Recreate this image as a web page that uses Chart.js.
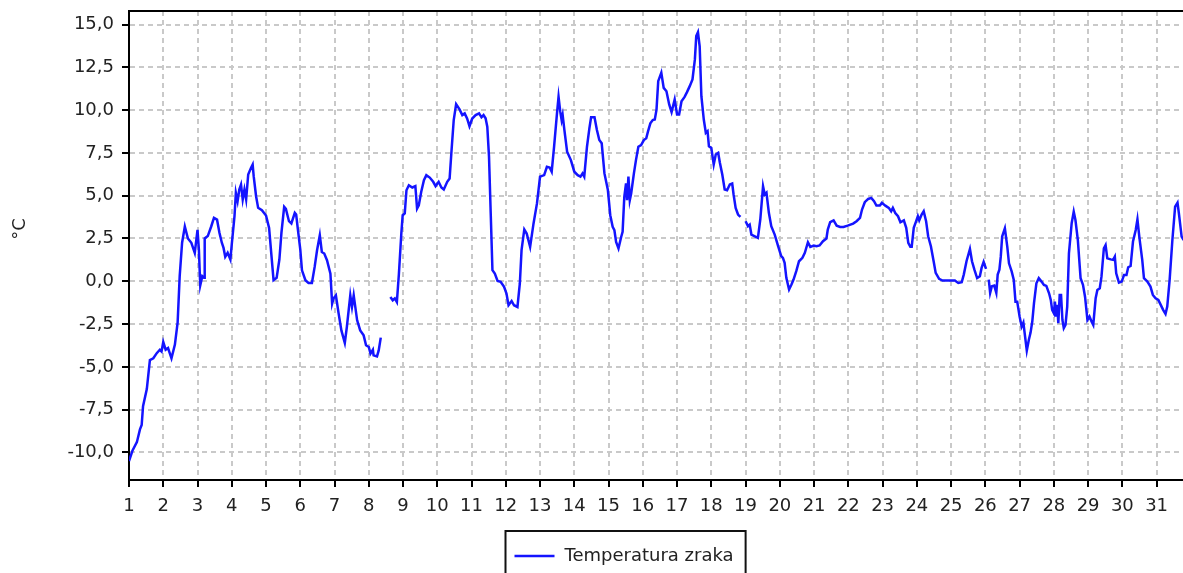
<!DOCTYPE html>
<html>
<head>
<meta charset="utf-8">
<script src="https://cdn.jsdelivr.net/npm/chart.js@4.4.1/dist/chart.umd.min.js"></script>
<style>
  html, body { margin: 0; padding: 0; background: #fff; }
  #temp-chart { display: block; }
</style>
</head>
<body>
<canvas id="temp-chart" width="1183" height="573"></canvas>
<script>
/* ==================================== */
/*                Data                  */
/* ==================================== */
const seriesLabel = "Temperatura zraka";
const yTitle = "°C";

// day of month (decimal) and air temperature; null = missing readings
const days = [
  1.00, 1.10, 1.23, 1.32, 1.37, 1.41, 1.52, 1.61, 1.71, 1.81, 1.90, 1.95,
  2.00, 2.07, 2.14, 2.24, 2.34, 2.42, 2.48, 2.55, 2.63, 2.72, 2.82, 2.92,
  3.00, 3.04, 3.08, 3.14, 3.19, 3.21, 3.30, 3.40, 3.48, 3.57, 3.64, 3.71, 3.76, 3.81, 3.88, 3.96,
  4.00, 4.08, 4.12, 4.17, 4.22, 4.27, 4.32, 4.37, 4.42, 4.48, 4.56, 4.61, 4.64, 4.71, 4.77, 4.88,
  5.00, 5.09, 5.16, 5.22, 5.31, 5.39, 5.45, 5.53, 5.58, 5.67, 5.74, 5.84, 5.88, 5.93,
  6.00, 6.05, 6.15, 6.24, 6.34, 6.42, 6.49, 6.57, 6.63, 6.70, 6.78, 6.88, 6.93, 6.97,
  7.04, 7.12, 7.20, 7.30, 7.36, 7.46, 7.51, 7.56, 7.66, 7.75, 7.85, 7.92,
  8.00, 8.05, 8.12, 8.14, 8.24, 8.29, 8.35, 8.49, 8.63, 8.70, 8.76, 8.82, 8.88, 8.95, 8.99,
  9.05, 9.10, 9.17, 9.27, 9.36, 9.41, 9.46, 9.53, 9.61, 9.68, 9.78, 9.88, 9.95,
  10.04, 10.12, 10.19, 10.29, 10.36, 10.41, 10.48, 10.55, 10.65, 10.73, 10.80, 10.87, 10.94,
  11.02, 11.12, 11.22, 11.29, 11.35, 11.41, 11.46, 11.51, 11.56, 11.61, 11.68, 11.76, 11.85, 11.95,
  12.02, 12.08, 12.17, 12.24, 12.34, 12.41, 12.46, 12.54, 12.61, 12.71, 12.81, 12.91,
  13.00, 13.12, 13.20, 13.28, 13.34, 13.41, 13.49, 13.54, 13.59, 13.63, 13.66, 13.71, 13.79, 13.90,
  14.00, 14.10, 14.18, 14.24, 14.29, 14.37, 14.44, 14.49, 14.59, 14.66, 14.73, 14.80, 14.88, 14.98,
  15.05, 15.12, 15.17, 15.22, 15.29, 15.37, 15.41, 15.46, 15.51, 15.54, 15.58, 15.62, 15.66, 15.74, 15.80, 15.87, 15.95,
  16.03, 16.10, 16.15, 16.22, 16.29, 16.35, 16.40, 16.45, 16.54, 16.61, 16.69, 16.77, 16.84, 16.93,
  17.00, 17.06, 17.13, 17.22, 17.29, 17.37, 17.45, 17.52, 17.56, 17.61, 17.66, 17.71, 17.78, 17.84, 17.89, 17.93,
  18.00, 18.07, 18.13, 18.20, 18.25, 18.32, 18.39, 18.46, 18.54, 18.61, 18.65, 18.71, 18.78, 18.85, 18.92,
  19.00, 19.07, 19.12, 19.17, 19.27, 19.36, 19.43, 19.51, 19.56, 19.61, 19.68, 19.75, 19.85, 19.95,
  20.04, 20.09, 20.14, 20.19, 20.27, 20.34, 20.40, 20.48, 20.56, 20.66, 20.73, 20.82, 20.89, 20.99,
  21.07, 21.16, 21.26, 21.36, 21.40, 21.47, 21.57, 21.66, 21.76, 21.86, 21.98,
  22.14, 22.24, 22.34, 22.40, 22.48, 22.58, 22.67, 22.75, 22.82, 22.92, 22.98,
  23.08, 23.18, 23.25, 23.30, 23.37, 23.45, 23.52, 23.62, 23.69, 23.75, 23.81, 23.85, 23.91, 23.98,
  24.03, 24.07, 24.14, 24.20, 24.27, 24.33, 24.41, 24.49, 24.55, 24.65, 24.75, 24.85, 24.99,
  25.11, 25.21, 25.31, 25.37, 25.45, 25.55, 25.61, 25.68, 25.76, 25.84, 25.89, 25.95,
  26.02, 26.06, 26.10, 26.14, 26.19, 26.26, 26.32, 26.36, 26.41, 26.45, 26.49, 26.57, 26.64, 26.69, 26.77, 26.83, 26.88, 26.93,
  27.00, 27.06, 27.11, 27.16, 27.21, 27.27, 27.32, 27.37, 27.42, 27.49, 27.56, 27.64, 27.71, 27.78, 27.86, 27.91, 27.95,
  28.00, 28.03, 28.07, 28.10, 28.13, 28.17, 28.21, 28.25, 28.29, 28.34, 28.39, 28.44, 28.52, 28.58, 28.63, 28.70, 28.78, 28.85, 28.91, 28.98,
  29.04, 29.10, 29.15, 29.22, 29.27, 29.34, 29.39, 29.46, 29.51, 29.56, 29.66, 29.73, 29.78, 29.82, 29.90, 29.98,
  30.05, 30.12, 30.17, 30.24, 30.31, 30.39, 30.44, 30.50, 30.58, 30.63, 30.73, 30.82, 30.89, 30.97,
  31.05, 31.12, 31.19, 31.26, 31.31, 31.38, 31.46, 31.54, 31.61, 31.65, 31.73, 31.79
];

const temps = [
  -10.5, -9.9, -9.4, -8.65, -8.4, -7.3, -6.3, -4.6, -4.5, -4.2, -4.0, -4.1,
  -3.55, -4.0, -3.9, -4.5, -3.7, -2.4, 0.3, 2.25, 3.2, 2.5, 2.25, 1.66,
  3.0, 1.86, -0.24, 0.3, 0.2, 2.5, 2.64, 3.2, 3.7, 3.6, 2.83, 2.25, 1.95, 1.43, 1.66, 1.27,
  2.15, 3.8, 5.17, 4.68, 5.36, 5.65, 4.78, 5.36, 4.78, 6.24, 6.62, 6.82, 6.14, 4.97, 4.29, 4.15,
  3.84, 3.12, 1.47, 0.07, 0.2, 1.27, 2.83, 4.35, 4.23, 3.51, 3.38, 4.0, 3.9, 3.03,
  1.86, 0.64, 0.06, -0.1, -0.1, 0.84, 1.81, 2.69, 1.71, 1.62, 1.23, 0.45, -1.3, -1.01,
  -0.82, -1.89, -2.87, -3.6, -2.67, -0.82, -1.5, -0.82, -2.28, -2.87, -3.16, -3.74,
  -3.84, -4.23, -4.0, -4.33, -4.39, -4.04, -3.29, null, -0.92, -1.11, -1.0, -1.21, 0.45, 2.79, 3.86,
  3.96, 5.32, 5.61, 5.48, 5.56, 4.25, 4.44, 5.22, 5.91, 6.2, 6.06, 5.81, 5.56,
  5.81, 5.48, 5.36, 5.81, 6.0, 7.47, 9.42, 10.35, 10.04, 9.71, 9.81, 9.51, 9.06,
  9.51, 9.71, 9.81, 9.58, 9.71, 9.52, 9.03, 7.28, 3.96, 0.65, 0.45, 0.02, -0.03, -0.33,
  -0.72, -1.4, -1.15, -1.4, -1.5, -0.13, 1.82, 3.03, 2.79, 2.01, 3.38, 4.55,
  6.11, 6.2, 6.69, 6.65, 6.4, 7.86, 9.71, 10.78, 9.91, 9.42, 9.71, 8.84, 7.57, 7.08,
  6.4, 6.2, 6.11, 6.3, 6.11, 7.86, 8.93, 9.58, 9.58, 8.84, 8.25, 8.06, 6.3, 5.33,
  3.86, 3.18, 2.99, 2.3, 1.92, 2.6, 2.89, 4.94, 5.72, 4.74, 6.11, 4.74, 5.13, 6.3, 7.08, 7.86, 7.96,
  8.25, 8.35, 8.74, 9.23, 9.42, 9.45, 10.03, 11.69, 12.18, 11.3, 11.1, 10.33, 9.88, 10.62,
  9.74, 9.74, 10.52, 10.77, 11.05, 11.4, 11.79, 12.96, 14.32, 14.55, 13.73, 10.81, 9.45, 8.67, 8.77, 7.89,
  7.79, 6.82, 7.41, 7.5, 6.92, 6.24, 5.36, 5.32, 5.65, 5.71, 5.07, 4.29, 3.9, 3.76, null,
  3.51, 3.22, 3.31, 2.73, 2.63, 2.54, 3.61, 5.55, 5.07, 5.17, 4.0, 3.22, 2.73, 2.05,
  1.47, 1.37, 1.08, 0.2, -0.48, -0.19, 0.1, 0.59, 1.17, 1.37, 1.66, 2.28, 2.01, 2.09,
  2.05, 2.09, 2.34, 2.5, 3.02, 3.45, 3.56, 3.25, 3.17, 3.17, 3.25,
  3.37, 3.51, 3.7, 4.19, 4.62, 4.81, 4.87, 4.68, 4.42, 4.42, 4.58,
  4.42, 4.29, 4.09, 4.29, 3.99, 3.8, 3.45, 3.56, 3.12, 2.24, 2.01, 2.01, 3.12, 3.51,
  3.8, 3.56, 3.9, 4.09, 3.51, 2.63, 2.05, 1.17, 0.49, 0.14, 0.04, 0.04, 0.04,
  0.04, -0.1, -0.06, 0.39, 1.17, 1.89, 1.17, 0.68, 0.19, 0.29, 0.78, 1.13,
  0.72, null, 0.1, -0.68, -0.29, -0.25, -0.68, 0.39, 0.68, 1.44, 2.61, 3.09, 2.02, 1.05, 0.56, 0.08, -1.19, -1.19,
  -2.06, -2.65, -2.41, -3.23, -4.05, -3.42, -3.0, -2.35, -1.28, -0.12, 0.18, -0.02, -0.21, -0.27, -0.7, -1.09, -1.67,
  -1.87, -1.19, -2.06, -1.38, -2.45, -0.8, -0.8, -2.26, -2.74, -2.55, -1.48, 1.63, 3.39, 4.07, 3.58, 2.41, 0.18, -0.21, -0.9, -2.26,
  -2.06, -2.35, -2.55, -0.99, -0.51, -0.41, 0.27, 1.93, 2.12, 1.34, 1.28, 1.25, 1.44, 0.47, -0.08, -0.02,
  0.37, 0.37, 0.82, 0.89, 2.32, 3.0, 3.62, 2.51, 1.25, 0.18, -0.02, -0.31, -0.8, -0.99,
  -1.09, -1.38, -1.67, -1.91, -1.48, 0.08, 2.41, 4.36, 4.59, 3.97, 2.61, 2.4
];

const xTicks = [1, 2, 3, 4, 5, 6, 7, 8, 9, 10, 11, 12, 13, 14, 15, 16,
  17, 18, 19, 20, 21, 22, 23, 24, 25, 26, 27, 28, 29, 30, 31];
const yTicks = [-10, -7.5, -5, -2.5, 0, 2.5, 5, 7.5, 10, 12.5, 15];

/* ==================================== */
/*               Styling                */
/* ==================================== */
const FONT = "'DejaVu Sans', Verdana, sans-serif";
const TEXT = "#222222";
const GRID = "#c9c9c9";
const LINE = "#1414ff";

// frame top line, y title and the boxed legend under the axis
const framePlugin = {
  id: "frame",
  afterDraw(chart) {
    const ctx = chart.ctx;
    const area = chart.chartArea;
    ctx.save();
    ctx.strokeStyle = "#000";
    ctx.lineWidth = 2;
    ctx.beginPath();
    ctx.moveTo(area.left, area.top);
    ctx.lineTo(area.right, area.top);
    ctx.stroke();

    ctx.fillStyle = TEXT;
    ctx.font = "18px " + FONT;
    ctx.textAlign = "center";
    ctx.textBaseline = "middle";
    ctx.translate(20, 229);
    ctx.rotate(-Math.PI / 2);
    ctx.fillText(yTitle, 0, 0);
    ctx.restore();

    // legend
    const ds = chart.data.datasets[0];
    ctx.save();
    ctx.font = "18px " + FONT;
    const textW = ctx.measureText(ds.label).width;
    const sample = 40;
    const boxW = 9 + sample + 10 + textW + 12;
    const cx = 625, cy = 556;
    const bx = Math.round(cx - boxW / 2) + 0.5;
    ctx.strokeStyle = "#111";
    ctx.lineWidth = 2;
    ctx.strokeRect(bx, cy - 25, boxW, 50);
    ctx.strokeStyle = ds.borderColor;
    ctx.lineWidth = 2.5;
    ctx.beginPath();
    ctx.moveTo(bx + 9, cy);
    ctx.lineTo(bx + 9 + sample, cy);
    ctx.stroke();
    ctx.fillStyle = TEXT;
    ctx.textAlign = "left";
    ctx.textBaseline = "middle";
    ctx.fillText(ds.label, bx + 9 + sample + 10, cy);
    ctx.restore();
  },
};

/* ==================================== */
/*                Chart                 */
/* ==================================== */
const tempChart = new Chart(document.querySelector("#temp-chart"), {
  type: "line",
  data: {
    labels: days,
    datasets: [
      {
        label: seriesLabel,
        data: temps,
        borderColor: LINE,
        backgroundColor: LINE,
        borderWidth: 2.5,
        pointRadius: 0,
        tension: 0,
        spanGaps: false,
        fill: false,
      },
    ],
  },
  options: {
    responsive: false,
    animation: false,
    layout: { padding: { top: 11, left: 0, right: 0, bottom: 0 } },
    plugins: {
      legend: { display: false },
      tooltip: { enabled: false },
    },
    scales: {
      x: {
        type: "linear",
        min: 1,
        max: 31.77,
        afterFit: (axis) => {
          axis.height = 93;
          axis.paddingLeft = 0;
          axis.paddingRight = 0;
        },
        afterBuildTicks: (axis) => { axis.ticks = xTicks.map((v) => ({ value: v })); },
        ticks: {
          autoSkip: false,
          maxRotation: 0,
          padding: 9,
          color: TEXT,
          font: { family: FONT, size: 18 },
          callback: (v) => String(v),
        },
        grid: { color: GRID, lineWidth: 2, tickLength: 7, tickColor: "#000", tickWidth: 2 },
        border: { color: "#000", width: 2, dash: [5, 4] },
      },
      y: {
        min: -11.61,
        max: 15.79,
        afterFit: (axis) => {
          axis.width = 129;
          axis.paddingTop = 0;
          axis.paddingBottom = 0;
        },
        afterBuildTicks: (axis) => { axis.ticks = yTicks.map((v) => ({ value: v })); },
        ticks: {
          padding: 8,
          color: TEXT,
          font: { family: FONT, size: 18 },
          callback: (v) => v.toFixed(1).replace(".", ","),
        },
        grid: { color: GRID, lineWidth: 2, tickLength: 7, tickColor: "#000", tickWidth: 2 },
        border: { color: "#000", width: 2, dash: [5, 4] },
      },
    },
  },
  plugins: [framePlugin],
});
</script>
</body>
</html>
